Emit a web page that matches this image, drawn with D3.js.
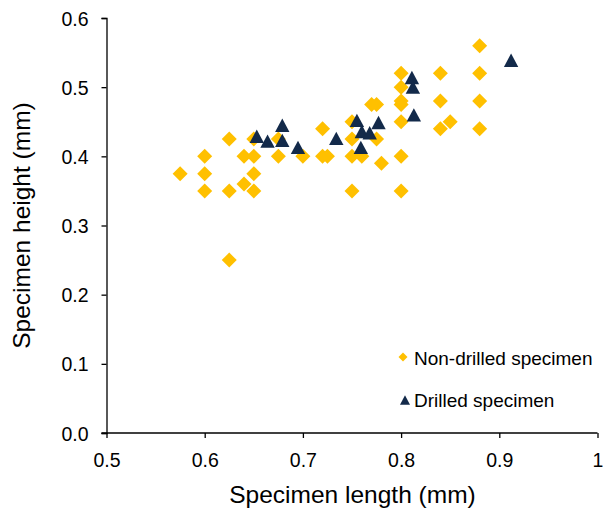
<!DOCTYPE html>
<html>
<head>
<meta charset="utf-8">
<script src="https://cdn.jsdelivr.net/npm/d3@7"></script>
<style>
  body { margin: 0; background: #fff; }
  text { font-family: "Liberation Sans", Arial, sans-serif; fill: #000; }
</style>
</head>
<body>
<div class="content"></div>
<script>
const w = 603;
const h = 509;

// non-drilled specimens: length (mm), height (mm)
const nonDrilledLength = [0.575, 0.6, 0.6, 0.6, 0.625, 0.625, 0.625, 0.64, 0.64, 0.65, 0.65, 0.65, 0.65,
	0.675, 0.675, 0.7, 0.72, 0.72, 0.725, 0.75, 0.75, 0.75, 0.76, 0.75, 0.77, 0.775, 0.775, 0.78,
	0.8, 0.8, 0.8, 0.8, 0.8, 0.8, 0.8, 0.84, 0.84, 0.84, 0.85, 0.88, 0.88, 0.88, 0.88];
const nonDrilledHeight = [0.375, 0.4, 0.375, 0.35, 0.425, 0.35, 0.25, 0.4, 0.36, 0.4, 0.375, 0.35, 0.425,
	0.425, 0.4, 0.4, 0.44, 0.4, 0.4, 0.425, 0.45, 0.4, 0.4, 0.35, 0.475, 0.475, 0.425, 0.39,
	0.52, 0.5, 0.48, 0.475, 0.45, 0.4, 0.35, 0.52, 0.48, 0.44, 0.45, 0.56, 0.52, 0.48, 0.44];

// drilled specimens
const drilledLength = [0.653, 0.664, 0.679, 0.679, 0.695, 0.734, 0.755, 0.76, 0.768, 0.777, 0.759,
	0.811, 0.812, 0.813, 0.912];
const drilledHeight = [0.429, 0.422, 0.445, 0.423, 0.413, 0.426, 0.452, 0.436, 0.434, 0.449, 0.413,
	0.514, 0.5, 0.46, 0.539];

const xTicks = [0.5, 0.6, 0.7, 0.8, 0.9, 1];
const yTicks = [0, 0.1, 0.2, 0.3, 0.4, 0.5, 0.6];

const nonDrilledColor = '#FFC000';
const drilledColor = '#132A4A';

const nonDrilled = nonDrilledLength.map((x, i) => ({ x: x, y: nonDrilledHeight[i] }));
const drilled = drilledLength.map((x, i) => ({ x: x, y: drilledHeight[i] }));

const svg = d3.select('.content').append('svg')
	.attr('width', w)
	.attr('height', h);

const xScale = d3.scaleLinear().domain([0.5, 1]).range([106.5, 597.5]);
const yScale = d3.scaleLinear().domain([0, 0.6]).range([433, 18]);

const diamond = (s) => `M0,${-s}L${s},0L0,${s}L${-s},0Z`;
const triangle = (s) => `M0,${-s * 0.93}L${s},${s * 0.93}L${-s},${s * 0.93}Z`;

// axes
const xAxis = d3.axisBottom(xScale)
	.tickValues(xTicks)
	.tickSize(5)
	.tickFormat((d) => d === 1 ? '1' : d3.format('.1f')(d));

const yAxis = d3.axisLeft(yScale)
	.tickValues(yTicks)
	.tickSize(5)
	.tickFormat(d3.format('.1f'));

const gx = svg.append('g')
	.attr('transform', 'translate(0,433)')
	.call(xAxis);

const gy = svg.append('g')
	.attr('transform', 'translate(106.5,0)')
	.call(yAxis);

[gx, gy].forEach((g) => {
	g.select('.domain').attr('stroke', '#000').attr('stroke-width', 1.3);
	g.selectAll('.tick line').attr('stroke', '#000').attr('stroke-width', 1.3);
	g.selectAll('.tick text')
		.style('font-family', '"Liberation Sans", Arial, sans-serif')
		.style('font-size', '19.5px')
		.attr('fill', '#000');
});
gx.select('.domain').attr('d', 'M101.5,0H597.5');
gx.selectAll('.tick text').attr('y', 34).attr('dy', 0);
gy.selectAll('.tick text').attr('x', -18).attr('dy', '0.36em');

// points
svg.append('g').selectAll('path')
	.data(nonDrilled)
	.enter()
	.append('path')
	.attr('d', diamond(7.5))
	.attr('transform', (d) => `translate(${xScale(d.x)},${yScale(d.y)})`)
	.attr('fill', nonDrilledColor);

svg.append('g').selectAll('path')
	.data(drilled)
	.enter()
	.append('path')
	.attr('d', triangle(7.2))
	.attr('transform', (d) => `translate(${xScale(d.x)},${yScale(d.y)})`)
	.attr('fill', drilledColor);

// axis titles
svg.append('text')
	.attr('x', 352.5)
	.attr('y', 503)
	.attr('text-anchor', 'middle')
	.style('font-size', '24.5px')
	.text('Specimen length (mm)');

svg.append('text')
	.attr('transform', 'translate(30,225.5) rotate(-90)')
	.attr('text-anchor', 'middle')
	.style('font-size', '24.5px')
	.text('Specimen height (mm)');

// legend
const legend = svg.append('g');
legend.append('path')
	.attr('d', diamond(4.5))
	.attr('transform', 'translate(403,357)')
	.attr('fill', nonDrilledColor);
legend.append('text')
	.attr('x', 414)
	.attr('y', 365)
	.style('font-size', '19px')
	.text('Non-drilled specimen');
legend.append('path')
	.attr('d', triangle(5))
	.attr('transform', 'translate(405,400)')
	.attr('fill', drilledColor);
legend.append('text')
	.attr('x', 414)
	.attr('y', 407)
	.style('font-size', '19px')
	.text('Drilled specimen');
</script>
</body>
</html>
